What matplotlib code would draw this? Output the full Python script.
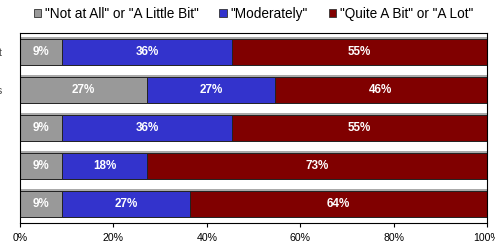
import matplotlib
matplotlib.use('Agg')
import matplotlib.pyplot as plt
from matplotlib.patches import Patch

plt.rcParams['font.family'] = ['Liberation Sans', 'DejaVu Sans']

# rows top to bottom
rows = ['t', 's', '', '', '']
low = [9.09, 27.25, 9.09, 9.09, 9.09]
mid = [36.36, 27.25, 36.36, 18.18, 27.27]
high = [54.55, 45.5, 54.55, 72.73, 63.64]
series = ['"Not at All" or "A Little Bit"', '"Moderately"', '"Quite A Bit" or "A Lot"']
colors = ['#999999', '#3333CC', '#800000']
xticks = [0, 20, 40, 60, 80, 100]

fig = plt.figure(figsize=(4.95, 2.44), dpi=100)
ax = fig.add_axes([20/495, 21/244, 467/495, 190/244])

y = list(range(len(rows)))
tot = [a + b + c for a, b, c in zip(low, mid, high)]
# faint shadow line above each bar
ax.barh([v - 0.03 for v in y], tot, height=0.72, color='#aaaaaa', linewidth=0, zorder=1)

left = [0] * len(rows)
for vals, col in zip([low, mid, high], colors):
    ax.barh(y, vals, left=left, height=0.70, color=col, edgecolor='#222222', linewidth=0.7, zorder=2)
    for i, v in enumerate(vals):
        ax.text(left[i] + v / 2, y[i], '%d%%' % round(v), ha='center', va='center',
                color='white', fontsize=8.4, fontweight='bold', zorder=3)
    left = [l + v for l, v in zip(left, vals)]

ax.set_xlim(0, 100)
ax.set_ylim(len(rows) - 0.5, -0.5)
ax.set_xticks(xticks)
ax.set_xticklabels(['%d%%' % t for t in xticks], fontsize=7.6)
ax.set_yticks(y)
ax.set_yticklabels(rows, fontsize=7.6, color='#444444')
ax.tick_params(axis='y', length=0, pad=13)
ax.tick_params(axis='x', length=3, pad=4.5)
for s in ax.spines.values():
    s.set_linewidth(0.8)

handles = [Patch(facecolor=c, edgecolor='#333333', linewidth=0.6) for c in colors]
fig.legend(handles, series, loc='center', bbox_to_anchor=(0.512, 1 - 14/244), ncol=3,
           frameon=False, fontsize=9.8, handlelength=0.55, handleheight=0.55,
           handletextpad=0.3, columnspacing=1.5)

fig.savefig('out.png', dpi=100)
